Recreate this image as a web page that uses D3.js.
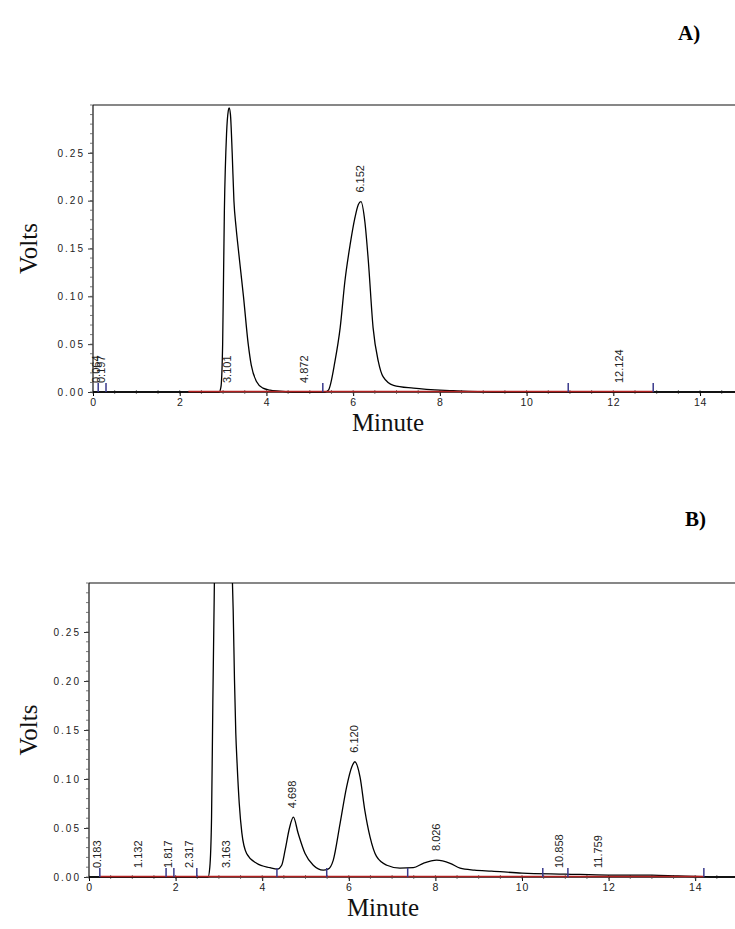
<!DOCTYPE html>
<html>
<head>
<meta charset="utf-8">
<script src="https://cdn.jsdelivr.net/npm/d3@7"></script>
<style>
  body { margin: 0; background: #fff; }
</style>
</head>
<body>
<div id="chart"></div>
<script>
// Chromatogram A - signal (minutes, volts)
const timeA = [0, 2.2, 2.91, 2.95, 2.99, 3.03, 3.08, 3.12, 3.14, 3.17, 3.21, 3.25, 3.30, 3.35, 3.41, 3.47, 3.58, 3.65, 3.77, 3.92, 4.08, 4.3, 4.6,
  5.35, 5.43, 5.58, 5.70, 5.81, 5.93, 6.04, 6.12, 6.18, 6.27, 6.35, 6.46, 6.58, 6.69, 6.93, 7.39, 8.31, 9.22, 15];
const voltA = [0, 0, 0, 0.005, 0.05, 0.19, 0.27, 0.294, 0.297, 0.29, 0.25, 0.20, 0.172, 0.15, 0.125, 0.10, 0.05, 0.028, 0.011, 0.004, 0.002, 0.001, 0,
  0, 0.002, 0.032, 0.067, 0.116, 0.154, 0.182, 0.196, 0.199, 0.178, 0.137, 0.067, 0.032, 0.016, 0.007, 0.004, 0.0014, 0, 0];
const peakTimeA = [0.064, 0.197, 3.101, 4.872, 6.152, 12.124];
const peakVoltA = [0, 0, 0.297, 0, 0.199, 0];
const markerA = [0.12, 0.30, 5.30, 10.96, 12.92];
const baselineA = [2.2, 12.92];

// Chromatogram B
const timeB = [0, 2.75, 2.79, 2.83, 2.86, 2.89, 2.92, 3.05, 3.2, 3.30, 3.33, 3.36, 3.39, 3.42, 3.47, 3.53, 3.64, 3.87, 4.18,
  4.35, 4.45, 4.53, 4.63, 4.72, 4.83, 4.99, 5.18, 5.41, 5.52, 5.64, 5.80, 5.95, 6.07, 6.14, 6.26, 6.37, 6.49, 6.64, 6.88,
  7.18, 7.49, 7.72, 8.03, 8.34, 8.57, 8.9, 9.3, 10, 11, 12, 13, 13.6, 14.5, 15];
const voltB = [0, 0, 0.01, 0.06, 0.178, 0.28, 0.38, 0.5, 0.45, 0.32, 0.272, 0.201, 0.147, 0.116, 0.075, 0.045, 0.024, 0.014, 0.0095,
  0.008, 0.012, 0.0276, 0.05, 0.061, 0.0446, 0.024, 0.012, 0.007, 0.008, 0.017, 0.055, 0.092, 0.1125, 0.1176, 0.102, 0.068, 0.041, 0.021, 0.012,
  0.009, 0.0095, 0.014, 0.0173, 0.014, 0.009, 0.007, 0.006, 0.004, 0.003, 0.002, 0.002, 0.001, 0, 0];
const peakTimeB = [0.183, 1.132, 1.817, 2.317, 3.163, 4.698, 6.120, 8.026, 10.858, 11.759];
const peakVoltB = [0, 0, 0, 0, 0.5, 0.061, 0.1176, 0.0173, 0, 0];
const markerB = [0.25, 1.78, 1.96, 2.49, 4.34, 5.49, 7.36, 10.48, 11.06, 14.2];
const baselineB = [0.25, 14.2];

const xTicks = [0, 2, 4, 6, 8, 10, 12, 14];
const yTicks = [0, 0.05, 0.10, 0.15, 0.20, 0.25];

const W = 735, H = 929;
const svg = d3.select("#chart").append("svg")
  .attr("width", W).attr("height", H)
  .style("background", "#fff");

function drawChromatogram(cfg) {
  const x = d3.scaleLinear().domain([0, 15]).range([cfg.left, cfg.left + 15 * cfg.pxPerMin]);
  const y = d3.scaleLinear().domain([0, 0.30]).range([cfg.bottom, cfg.top]);
  const g = svg.append("g");

  svg.append("clipPath").attr("id", cfg.id + "clip")
    .append("rect")
    .attr("x", cfg.left).attr("y", cfg.top)
    .attr("width", W - cfg.left).attr("height", cfg.bottom - cfg.top + 1);

  // frame: top + left
  g.append("line").attr("x1", cfg.left).attr("x2", W).attr("y1", cfg.top).attr("y2", cfg.top)
    .attr("stroke", "#111").attr("stroke-width", 1.2);

  // y axis
  const yAxis = d3.axisLeft(y).tickValues(yTicks).tickSize(5)
    .tickFormat(d3.format(".2f"));
  const ya = g.append("g").attr("transform", `translate(${cfg.left},0)`).call(yAxis);
  ya.select(".domain").attr("d", `M-0,${cfg.bottom}V${cfg.top}`).attr("stroke", "#111").attr("stroke-width", 1.2);
  ya.selectAll("text")
    .attr("x", -8)
    .style("font-family", "'Liberation Sans', Arial, sans-serif")
    .style("font-size", "10px").style("letter-spacing", "2px").attr("fill", "#222");
  ya.selectAll(".tick line").attr("stroke", "#333");
  const yMinor = d3.range(0, 0.301, 0.01);
  g.append("g").selectAll("line").data(yMinor).join("line")
    .attr("x1", cfg.left - 3).attr("x2", cfg.left)
    .attr("y1", d => y(d)).attr("y2", d => y(d))
    .attr("stroke", "#555").attr("stroke-width", 0.8);

  // x axis
  const xAxis = d3.axisBottom(x).tickValues(xTicks).tickSize(4).tickFormat(d3.format("d"));
  const xa = g.append("g").attr("transform", `translate(0,${cfg.bottom})`).call(xAxis);
  xa.select(".domain").attr("d", `M${cfg.left},0H${W}`).attr("stroke", "#111").attr("stroke-width", 1.6);
  xa.selectAll("text")
    .attr("y", 7)
    .style("font-family", "'Liberation Sans', Arial, sans-serif")
    .style("font-size", "10.5px").style("letter-spacing", "0.8px").attr("fill", "#222");
  const xMinor = d3.range(0, 15.01, 0.5);
  g.append("g").selectAll("line").data(xMinor).join("line")
    .attr("x1", d => x(d)).attr("x2", d => x(d))
    .attr("y1", cfg.bottom - 2).attr("y2", cfg.bottom + 2)
    .attr("stroke", "#555").attr("stroke-width", 0.8);

  // signal trace
  const pts = cfg.time.map((t, i) => [t, cfg.volt[i]]);
  const line = d3.line().x(d => x(d[0])).y(d => y(d[1])).curve(d3.curveMonotoneX);
  g.append("path").datum(pts)
    .attr("clip-path", `url(#${cfg.id}clip)`)
    .attr("d", line)
    .attr("fill", "none").attr("stroke", "#000").attr("stroke-width", 1.3);

  // red integration baseline
  g.append("line")
    .attr("x1", x(cfg.baseline[0])).attr("x2", x(cfg.baseline[1]))
    .attr("y1", y(0) - 0.5).attr("y2", y(0) - 0.5)
    .attr("stroke", "#b22020").attr("stroke-width", 1.6);

  // event markers
  g.append("g").selectAll("line").data(cfg.markers).join("line")
    .attr("x1", d => x(d)).attr("x2", d => x(d))
    .attr("y1", y(0)).attr("y2", y(0) - 9)
    .attr("stroke", "#3a3a8c").attr("stroke-width", 1.5);

  // retention time labels
  g.append("g").selectAll("text").data(cfg.peakTime).join("text")
    .attr("transform", (d, i) => {
      let yb = y(cfg.peakVolt[i]) - 9;
      if (yb - 30 < cfg.top) yb = y(0) - 9;
      return `translate(${x(d)},${yb}) rotate(-90)`;
    })
    .attr("dy", "0.35em")
    .style("font-family", "'Liberation Sans', Arial, sans-serif")
    .style("font-size", "11px").attr("fill", "#222")
    .text(d => d3.format(".3f")(d));

  // axis titles
  g.append("text")
    .attr("transform", `translate(37,${(cfg.top + cfg.bottom) / 2}) rotate(-90)`)
    .attr("text-anchor", "middle")
    .style("font-family", "'Liberation Serif', 'Times New Roman', serif")
    .style("font-size", "25px").attr("fill", "#111")
    .text("Volts");
  g.append("text")
    .attr("x", cfg.titleX).attr("y", cfg.bottom + 39)
    .attr("text-anchor", "middle")
    .style("font-family", "'Liberation Serif', 'Times New Roman', serif")
    .style("font-size", "25px").attr("fill", "#111")
    .text("Minute");

  // panel letter
  g.append("text")
    .attr("x", cfg.letterX).attr("y", cfg.letterY)
    .style("font-family", "'Liberation Serif', 'Times New Roman', serif")
    .style("font-size", "21px").style("font-weight", "bold").attr("fill", "#000")
    .text(cfg.letter);
}

drawChromatogram({
  id: "A", left: 93, top: 105, bottom: 392, pxPerMin: 43.36,
  time: timeA, volt: voltA, peakTime: peakTimeA, peakVolt: peakVoltA,
  markers: markerA, baseline: baselineA,
  titleX: 388, letter: "A)", letterX: 678, letterY: 40
});

drawChromatogram({
  id: "B", left: 89, top: 583, bottom: 877, pxPerMin: 43.3,
  time: timeB, volt: voltB, peakTime: peakTimeB, peakVolt: peakVoltB,
  markers: markerB, baseline: baselineB,
  titleX: 383, letter: "B)", letterX: 685, letterY: 526
});
</script>
</body>
</html>
